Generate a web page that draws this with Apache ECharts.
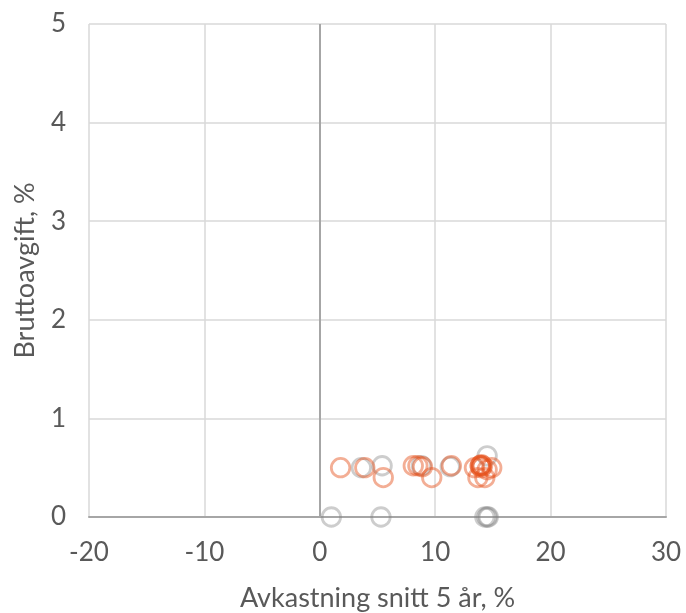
<!DOCTYPE html>
<html>
<head>
<meta charset="utf-8">
<script src="https://cdn.jsdelivr.net/npm/echarts@6/dist/echarts.min.js"></script>
<style>html,body{margin:0;padding:0;background:#fff}#c{width:686px;height:613px}</style>
</head>
<body>
<div id="c"></div>
<script>
var xTicks = [-20, -10, 0, 10, 20, 30];
var yTicks = [0, 1, 2, 3, 4, 5];
var xTitle = 'Avkastning snitt 5 år, %';
var yTitle = 'Bruttoavgift, %';
var orangePoints = [
  [1.8,0.50],[3.9,0.50],[5.5,0.40],[8.1,0.52],[8.5,0.52],[8.9,0.51],[9.7,0.40],
  [11.4,0.52],[13.4,0.50],[13.7,0.40],[13.9,0.52],[13.9,0.52],[14.0,0.53],[14.1,0.52],
  [14.0,0.50],[14.3,0.40],[14.5,0.48],[14.9,0.50]
];
var grayPoints = [
  [3.6,0.50],[5.4,0.52],[8.8,0.52],[11.3,0.51],[14.5,0.62],
  [1.0,0],[5.3,0],[14.3,0],[14.5,0],[14.6,0]
];

var font = 'Lato';
var txt = '#595959';
var chart = echarts.init(document.getElementById('c'), null, {renderer:'canvas'});
chart.setOption({
  animation: false,
  grid: {left: 89, right: 20, top: 24, bottom: 96, containLabel: false, outerBoundsMode: 'none'},
  xAxis: {
    type: 'value', min: xTicks[0], max: xTicks[xTicks.length-1], interval: 10,
    name: xTitle, nameLocation: 'middle', nameGap: 68,
    nameTextStyle: {color: txt, fontSize: 27, fontFamily: font},
    axisLine: {onZero: false, lineStyle: {color: '#a6a6a6', width: 2}},
    axisTick: {show: false},
    axisLabel: {color: txt, fontSize: 26, fontFamily: font, margin: 23},
    splitLine: {lineStyle: {color: '#d9d9d9', width: 1.5}}
  },
  yAxis: {
    type: 'value', min: yTicks[0], max: yTicks[yTicks.length-1], interval: 1,
    name: yTitle, nameLocation: 'middle', nameGap: 50, nameRotate: 90,
    nameTextStyle: {color: txt, fontSize: 27, fontFamily: font},
    axisLine: {show: false, onZero: false},
    axisTick: {show: false},
    axisLabel: {color: txt, fontSize: 26, fontFamily: font, margin: 23},
    splitLine: {lineStyle: {color: '#d9d9d9', width: 1.5}}
  },
  series: [
    {
      type: 'scatter', data: grayPoints, symbol: 'circle', symbolSize: 18.5,
      itemStyle: {color: 'rgba(0,0,0,0)', borderColor: 'rgba(130,130,130,0.5)', borderWidth: 2.8},
      markLine: {
        silent: true, symbol: 'none', label: {show: false},
        lineStyle: {color: '#a6a6a6', width: 2, type: 'solid'},
        data: [{xAxis: 0}]
      },
      z: 2
    },
    {
      type: 'scatter', data: orangePoints, symbol: 'circle', symbolSize: 18.5,
      itemStyle: {color: 'rgba(230,80,25,0)', borderColor: 'rgba(230,80,25,0.58)', borderWidth: 2.8},
      z: 3
    }
  ]
});
</script>
</body>
</html>
